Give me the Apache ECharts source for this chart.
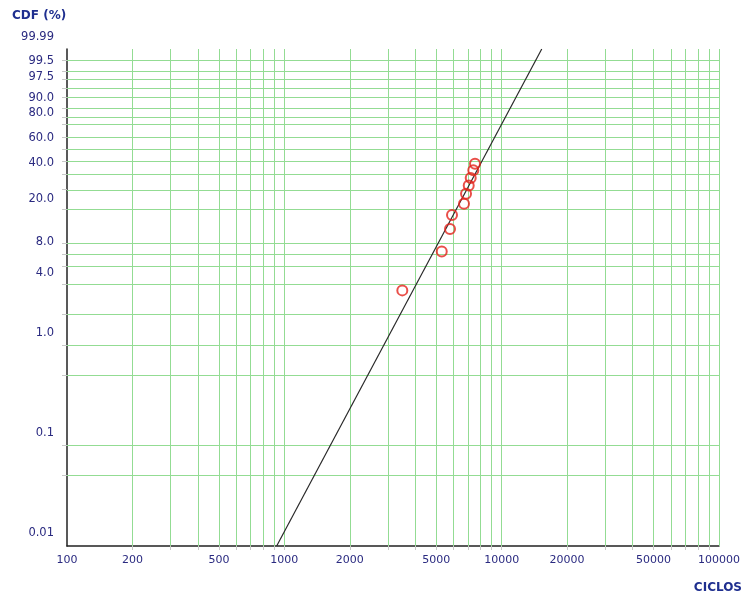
<!DOCTYPE html>
<html>
<head>
<meta charset="utf-8">
<script src="https://cdn.jsdelivr.net/npm/echarts@6/dist/echarts.min.js"></script>
<style>
html, body { margin: 0; padding: 0; background: #fff; }
#chart { width: 746px; height: 593px; }
</style>
</head>
<body>
<div id="chart"></div>
<script>
// failure data (cycles) and median-rank CDF in %
var cycles = [3490, 5300, 5785, 5909, 6710, 6855, 7053, 7204, 7405, 7539];
var cdfPct = [2.67, 6.43, 10.55, 14.27, 18.12, 22.26, 26.14, 30.34, 35.0, 39.5];

// fitted Weibull line, read at the plot edges
var fitCycles = [922, 15290];
var fitPct = [0.00746, 99.915];

// axis labels
var yLabelPct = [0.01, 0.1, 1.0, 4.0, 8.0, 20.0, 40.0, 60.0, 80.0, 90.0, 97.5, 99.5];
var yLabelText = ['0.01', '0.1', '1.0', '4.0', '8.0', '20.0', '40.0', '60.0', '80.0', '90.0', '97.5', '99.5'];
var xLabelVals = [100, 200, 500, 1000, 2000, 5000, 10000, 20000, 50000, 100000];

// grid lines
var yGridPct = [0.0382, 0.0755, 0.379, 0.756, 1.555, 3.10, 4.59, 6.07, 7.63, 16.2, 24.1, 32.3,
    41.2, 50.6, 60.6, 71.6, 77.2, 83.3, 90.4, 94.4, 97.1, 98.5, 99.57];
var xGridVals = [200, 300, 400, 500, 600, 700, 800, 900,
    1000, 2000, 3000, 4000, 5000, 6000, 7000, 8000, 9000,
    10000, 20000, 30000, 40000, 50000, 60000, 70000, 80000, 90000];

// Weibull probability scale
function wb(p) { return Math.log(-Math.log(1 - p / 100)); }
var yMin = wb(0.00746), yMax = wb(99.915);

var gridColor = '#93dc93';
var labelColor = '#2a2a80';
var font = 'DejaVu Sans';

var gridLines = [];
yGridPct.forEach(function (p) { gridLines.push({ yAxis: wb(p) }); });
xGridVals.forEach(function (v) { gridLines.push({ xAxis: v }); });
gridLines.push({ yAxis: yMax });
gridLines.push({ xAxis: 100000 });

var chartDom = document.getElementById('chart');
var myChart = echarts.init(chartDom, null, { renderer: 'canvas' });
var option;

option = {
    animation: false,
    backgroundColor: '#fff',
    grid: {
        left: 67,
        top: 49,
        width: 652,
        height: 497,
        outerBoundsMode: 'none'
    },
    xAxis: {
        type: 'log',
        logBase: 10,
        min: 100,
        max: 100000,
        axisLine: { show: true, onZero: false, lineStyle: { color: '#222', width: 1.5 } },
        axisTick: {
            show: true,
            customValues: xGridVals,
            length: 4,
            lineStyle: { color: '#c8c8c8' }
        },
        axisLabel: {
            customValues: xLabelVals,
            margin: 9,
            color: labelColor,
            fontFamily: font,
            fontSize: 11,
            formatter: function (v) { return String(Math.round(v)); }
        },
        splitLine: { show: false },
        minorSplitLine: { show: false }
    },
    yAxis: {
        type: 'value',
        min: yMin,
        max: yMax,
        axisLine: { show: true, onZero: false, lineStyle: { color: '#222', width: 1.5 } },
        axisTick: {
            show: true,
            customValues: yGridPct.map(wb),
            length: 5,
            lineStyle: { color: '#c8c8c8' }
        },
        axisLabel: {
            customValues: yLabelPct.map(wb),
            margin: 13,
            color: labelColor,
            fontFamily: font,
            fontSize: 11.5,
            formatter: function (v) {
                var best = 0;
                for (var i = 1; i < yLabelPct.length; i++) {
                    if (Math.abs(wb(yLabelPct[i]) - v) < Math.abs(wb(yLabelPct[best]) - v)) best = i;
                }
                return yLabelText[best];
            }
        },
        splitLine: { show: false }
    },
    graphic: [
        {
            type: 'text', left: 12, top: 10,
            style: { text: 'CDF (%)', fill: '#1f2f8f', font: 'bold 12px "DejaVu Sans"' }
        },
        {
            type: 'text', right: 746 - 54, top: 31,
            style: { text: '99.99', fill: labelColor, font: '11.5px "DejaVu Sans"' }
        },
        {
            type: 'text', right: 4, top: 582,
            style: { text: 'CICLOS', fill: '#1f2f8f', font: 'bold 12px "DejaVu Sans"' }
        }
    ],
    series: [
        {
            name: 'grid',
            type: 'line',
            data: [],
            silent: true,
            z: 1,
            markLine: {
                silent: true,
                z: 1,
                symbol: ['none', 'none'],
                label: { show: false },
                lineStyle: { color: gridColor, type: 'solid', width: 1 },
                emphasis: { disabled: true },
                data: gridLines
            }
        },
        {
            name: 'fit',
            type: 'line',
            z: 10,
            clip: true,
            showSymbol: false,
            symbol: 'none',
            lineStyle: { color: '#2a2a2a', width: 1.2 },
            data: fitCycles.map(function (c, i) { return [c, wb(fitPct[i])]; })
        },
        {
            name: 'data',
            type: 'scatter',
            z: 11,
            symbol: 'circle',
            symbolSize: 10,
            itemStyle: { color: 'rgba(0,0,0,0)', borderColor: '#e3231c', borderWidth: 2 },
            data: cycles.map(function (c, i) { return [c, wb(cdfPct[i])]; })
        }
    ]
};
option && myChart.setOption(option);
</script>
</body>
</html>
